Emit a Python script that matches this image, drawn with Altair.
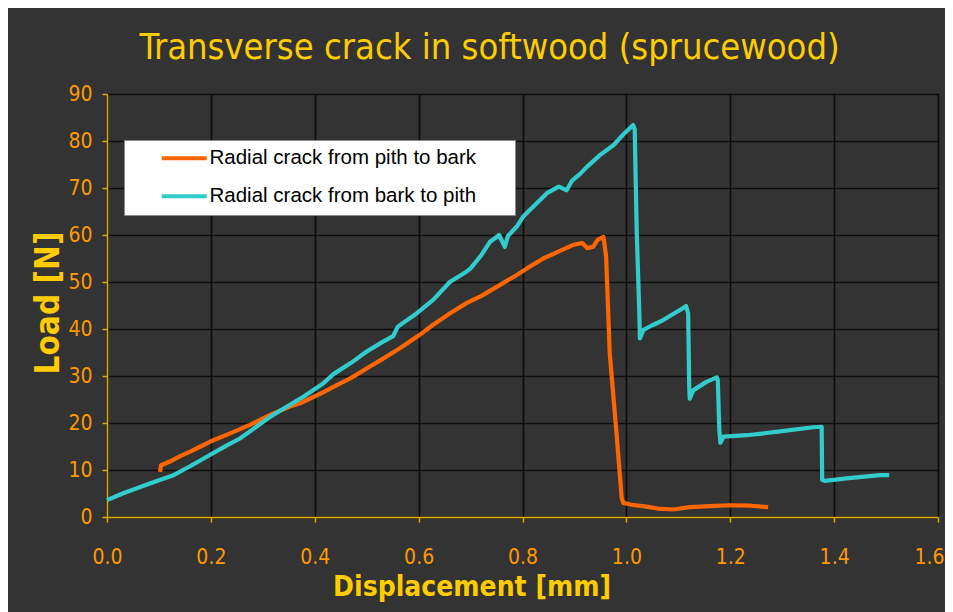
import altair as alt
import pandas as pd

# Radial crack from pith to bark (orange)
pith_x = [0.102, 0.104, 0.121, 0.140, 0.160, 0.180, 0.198, 0.237, 0.275, 0.314, 0.352, 0.372,
          0.416, 0.436, 0.470, 0.500, 0.530, 0.564, 0.600, 0.628, 0.660, 0.692, 0.720, 0.757,
          0.789, 0.810, 0.840, 0.870, 0.898, 0.915, 0.925, 0.936, 0.945, 0.956, 0.961, 0.968,
          0.981, 0.991, 0.994, 1.010, 1.039, 1.060, 1.090, 1.122, 1.160, 1.199, 1.240, 1.273]
pith_y = [9.6, 11.0, 11.8, 12.9, 13.9, 15.0, 16.0, 17.8, 19.6, 21.7, 23.5, 24.2,
          26.5, 27.7, 29.6, 31.6, 33.6, 35.9, 38.6, 40.9, 43.3, 45.5, 47.0, 49.4,
          51.5, 53.0, 55.0, 56.5, 57.9, 58.3, 57.2, 57.5, 59.0, 59.6, 55.4, 34.8,
          17.8, 4.0, 3.0, 2.6, 2.2, 1.8, 1.6, 2.1, 2.3, 2.5, 2.4, 2.1]

# Radial crack from bark to pith (cyan)
bark_x = [0.000, 0.030, 0.064, 0.100, 0.128, 0.160, 0.198, 0.230, 0.256, 0.285, 0.314, 0.345,
          0.378, 0.416, 0.436, 0.470, 0.500, 0.530, 0.551, 0.560, 0.596, 0.628, 0.660, 0.692,
          0.700, 0.720, 0.737, 0.755, 0.766, 0.772, 0.789, 0.802, 0.825, 0.847, 0.870, 0.885,
          0.895, 0.911, 0.924, 0.949, 0.975, 0.995, 1.013, 1.016, 1.020, 1.025, 1.026, 1.033,
          1.050, 1.071, 1.090, 1.110, 1.115, 1.119, 1.121, 1.122, 1.129, 1.155, 1.174, 1.176,
          1.179, 1.181, 1.187, 1.232, 1.296, 1.360, 1.376, 1.377, 1.382, 1.424, 1.488, 1.506]
bark_y = [3.6, 5.0, 6.4, 7.8, 8.9, 10.8, 13.2, 15.2, 16.7, 19.0, 21.3, 23.4,
          25.6, 28.4, 30.4, 32.8, 35.2, 37.2, 38.5, 40.5, 43.3, 46.2, 50.0, 52.2,
          52.9, 55.6, 58.5, 60.0, 57.5, 59.8, 61.8, 64.0, 66.5, 68.9, 70.3, 69.5,
          71.5, 73.0, 74.5, 77.0, 79.1, 81.5, 83.4, 82.5, 60.4, 43.3, 38.0, 39.8,
          40.8, 41.9, 43.2, 44.5, 44.9, 43.3, 27.7, 25.2, 27.0, 28.8, 29.7, 29.1,
          18.5, 15.8, 17.1, 17.4, 18.2, 19.1, 19.2, 7.9, 7.7, 8.2, 8.9, 8.9]

series = ["Radial crack from pith to bark", "Radial crack from bark to pith"]
colors = ["#FF6600", "#33CCCC"]
x_ticks = [0.0, 0.2, 0.4, 0.6, 0.8, 1.0, 1.2, 1.4, 1.6]
y_ticks = [0, 10, 20, 30, 40, 50, 60, 70, 80, 90]

rows = []
for i, (x, y) in enumerate(zip(pith_x, pith_y)):
    rows.append({"x": x, "y": y, "s": series[0], "o": i})
for i, (x, y) in enumerate(zip(bark_x, bark_y)):
    rows.append({"x": x, "y": y, "s": series[1], "o": i})
df = pd.DataFrame(rows)

FONT = "DejaVu Sans Condensed, DejaVu Sans, sans-serif"
GOLD = "#FFCC00"
AXIS = "#D9AD00"
TICKLAB = "#FF9900"
BLANK = "\u2800"

chart = alt.Chart(df).mark_line(strokeWidth=4.2, strokeJoin="round").encode(
    x=alt.X("x:Q", scale=alt.Scale(domain=[0, 1.6], nice=False),
            axis=alt.Axis(values=x_ticks, format=".1f", title="Displacement [mm]",
                          titleX=364.5, titleY=78, titleAlign="center", titleBaseline="alphabetic",
                          titleFontSize=28, labelPadding=24, labelFlush=False,
                          labelOffset={"condition": {"test": "datum.value >= 1.59", "value": -9},
                                       "value": 0})),
    y=alt.Y("y:Q", scale=alt.Scale(domain=[0, 90], nice=False),
            axis=alt.Axis(values=y_ticks, title="Load [N]",
                          titleX=-49, titleY=208.5, titleAlign="center", titleBaseline="alphabetic",
                          titleFontSize=33, labelPadding=10, labelFlush=False)),
    color=alt.Color("s:N", scale=alt.Scale(domain=series, range=colors),
                    legend=alt.Legend(orient="none", legendX=17, legendY=46, title=None,
                                      fillColor="white", strokeColor="#8a8a8a", padding=8,
                                      symbolType="M-3,0H3", symbolSize=225, symbolStrokeWidth=4,
                                      symbolOffset=42, labelFont="Liberation Sans",
                                      labelFontSize=20.5, labelColor="black", rowPadding=17,
                                      labelOffset=15, labelLimit=500,
                                      labelExpr="datum.label + '" + BLANK * 2 + "'")),
    order="o:Q",
).properties(
    width=831, height=423,
    autosize=alt.AutoSizeParams(type="none"),
    padding={"left": 99, "top": 86, "right": 7, "bottom": 95},
    title=alt.TitleParams("Transverse crack in softwood (sprucewood)", font=FONT, fontSize=36,
                          fontWeight="normal", color=GOLD, anchor="middle", dx=-33,
                          offset=-12, baseline="alphabetic"),
).configure(background="#333333").configure_view(stroke=None).configure_axis(
    domainColor=AXIS, domainWidth=1.5, tickColor=AXIS, tickSize=5, tickWidth=1.5,
    gridColor="#0d0d0d", gridWidth=1.6, labelColor=TICKLAB, labelFont=FONT, labelFontSize=21,
    titleColor=GOLD, titleFont=FONT, titleFontWeight="bold",
)

chart.save("out.html", embed_options={"renderer": "svg", "actions": False})
